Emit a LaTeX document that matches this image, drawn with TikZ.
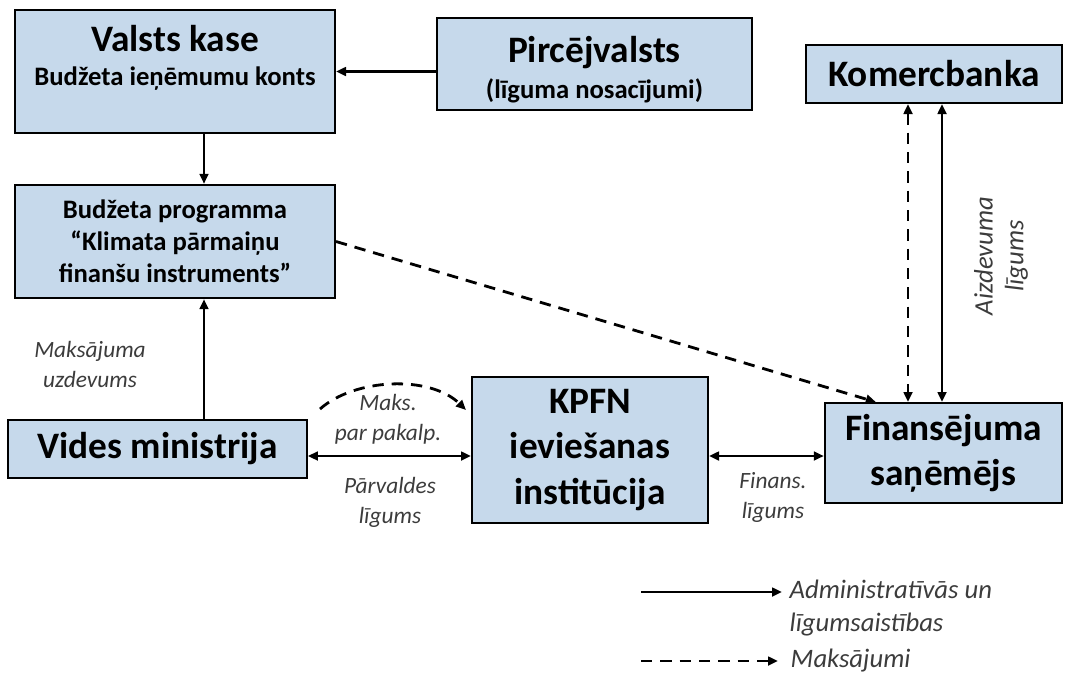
\documentclass[tikz,border=0pt]{standalone}
\usepackage{fontspec}
\setmainfont{Carlito}
\usetikzlibrary{arrows.meta,positioning}
\definecolor{boxblue}{RGB}{198,217,235}
\definecolor{labgray}{RGB}{60,60,60}
\newcommand{\bigbf}{\bfseries\fontsize{28}{34}\selectfont}
\newcommand{\midbf}{\bfseries\fontsize{20}{24}\selectfont}

\begin{document}
\begin{tikzpicture}[x=0.75pt,y=-0.75pt,
    >={Triangle[length=7.5pt,width=6.5pt]},
    box/.style={draw, line width=1.5pt, fill=boxblue, align=center, inner sep=0pt},
    lab/.style={text=labgray, align=center, font=\itshape\fontsize{17.5}{22.5}\selectfont},
    rel/.style={line width=2.1pt},
    pay/.style={rel, dash pattern=on 8.5pt off 6pt}]
        \useasboundingbox (0,0) rectangle (1067,679);

        % Nodes
        \node (kase) [box, minimum width=240pt, minimum height=92pt] at (175,71.5) {};
        \node (kasetxt) at (175,58) [align=center, font=\bigbf] {Valsts kase\\[-9pt]\midbf Budžeta ieņēmumu konts};
        \node (pirc) [box, font=\bigbf, minimum width=236pt, minimum height=69pt] at (594.5,64)
            {\rule{0pt}{28pt}Pircējvalsts\\[-7pt]\midbf (līguma nosacījumi)};
        \node (kom) [box, font=\bigbf, minimum width=192pt, minimum height=43.5pt] at (934,74) {Komercbanka};
        \node (prog) [box, font=\midbf, minimum width=240pt, minimum height=85pt] at (175,241.5)
            {Budžeta programma\\“Klimata pārmaiņu\\finanšu instruments”};
        \node (vides) [box, font=\bigbf, minimum width=224pt, minimum height=43.5pt] at (157.5,449) {Vides ministrija};
        \node (kpfn) [box, font=\bigbf, minimum width=177pt, minimum height=109.5pt] at (590,450)
            {KPFN\\ieviešanas\\institūcija};
        \node (fin) [box, font=\bigbf, minimum width=178pt, minimum height=75pt] at (943.5,453)
            {Finansējuma\\saņēmējs};

        % Helper coordinates
        \coordinate (vx) at (204,0);
        \coordinate (hy) at (0,456);
        \coordinate (dx) at (908,0);
        \coordinate (sx) at (942,0);
        \coordinate (mk1) at (320,409);
        \coordinate (mk2) at (466,410);

        % Arrows
        \draw [rel, ->] (pirc.west |- kase.east) -- (kase.east);
        \draw [rel, ->] (kase.south -| vx) -- (prog.north -| vx);
        \draw [rel, ->] (vides.north -| vx) -- (prog.south -| vx);
        \draw [rel, <->] (vides.east |- hy) -- (kpfn.west |- hy);
        \draw [rel, <->] (kpfn.east |- hy) -- (fin.west |- hy);
        \draw [pay, ->] (mk1) .. controls (355,378) and (430,375) .. (mk2);
        \draw [pay, ->] (prog.east) -- ([xshift=39pt]fin.north west);
        \draw [pay, <->] (kom.south -| dx) -- (fin.north -| dx);
        \draw [rel, <->] (kom.south -| sx) -- (fin.north -| sx);

        % Labels
        \node (l_uzd) [lab] at (90,364) {Maksājuma\\uzdevums};
        \node (l_maks) [lab] at (388,419) {Maks.\\par pakalp.};
        \node (l_parv) [lab] at (390,502) {Pārvaldes\\līgums};
        \node (l_fin) [lab] at (773,497) {Finans.\\līgums};
        \node (l_aizd) [lab, rotate=90, font=\itshape\fontsize{20}{23}\selectfont] at (1001,256) {Aizdevuma\\līgums};

        % Legend
        \coordinate (lg1a) at (641,592);
        \coordinate (lg1b) at (782,592);
        \coordinate (lg2a) at (641,661);
        \coordinate (lg2b) at (778,661);
        \draw [rel, ->] (lg1a) -- (lg1b);
        \draw [pay, ->] (lg2a) -- (lg2b);
        \node (t_adm) [lab, anchor=west, align=left, font=\itshape\fontsize{20}{25}\selectfont] at (785,608)
            {Administratīvās un\\līgumsaistības};
        \node (t_maks) [lab, anchor=west, font=\itshape\fontsize{20}{25}\selectfont] at (786,661) {Maksājumi};
    \end{tikzpicture}
\end{document}
